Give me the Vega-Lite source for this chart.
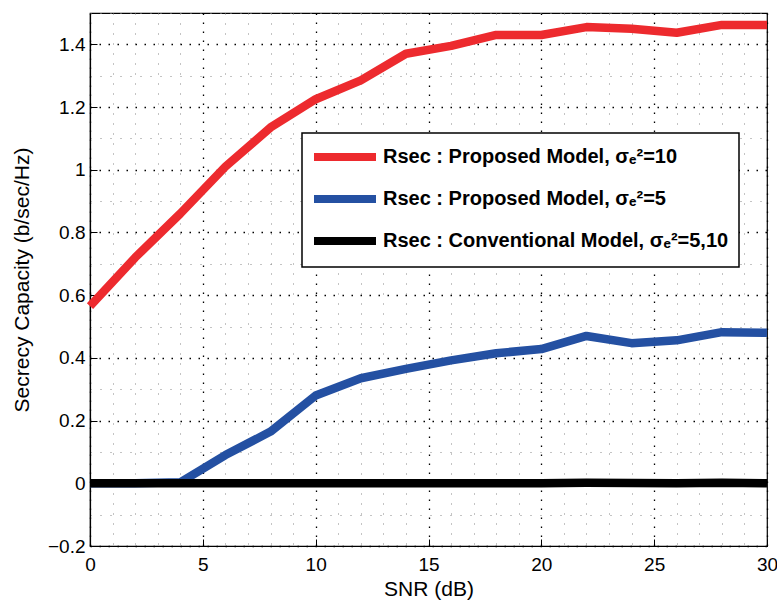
{
  "$schema": "https://vega.github.io/schema/vega-lite/v6.json",
  "autosize": {"type": "none"},
  "width": 677,
  "height": 533,
  "padding": {"left": 90, "top": 13, "right": 10, "bottom": 61},
  "background": "white",
  "config": {
    "font": "Liberation Sans",
    "view": {"stroke": "black", "strokeWidth": 1.2},
    "axis": {
      "domainColor": "black",
      "domainWidth": 1.2,
      "labelFont": "Liberation Sans",
      "labelFontSize": 19,
      "labelColor": "black",
      "titleFont": "Liberation Sans",
      "titleFontSize": 21,
      "titleFontWeight": "normal",
      "titleColor": "black",
      "ticks": true,
      "tickSize": -7,
      "tickColor": "black",
      "tickWidth": 1,
      "gridOpacity": 1
    }
  },
  "datasets": {
    "curves": [
      {"snr": 0, "cap": 0.565, "series": "Rsec : Proposed Model, σₑ²=10"},
      {"snr": 2, "cap": 0.72, "series": "Rsec : Proposed Model, σₑ²=10"},
      {"snr": 4, "cap": 0.86, "series": "Rsec : Proposed Model, σₑ²=10"},
      {"snr": 6, "cap": 1.01, "series": "Rsec : Proposed Model, σₑ²=10"},
      {"snr": 8, "cap": 1.135, "series": "Rsec : Proposed Model, σₑ²=10"},
      {"snr": 10, "cap": 1.225, "series": "Rsec : Proposed Model, σₑ²=10"},
      {"snr": 12, "cap": 1.285, "series": "Rsec : Proposed Model, σₑ²=10"},
      {"snr": 14, "cap": 1.37, "series": "Rsec : Proposed Model, σₑ²=10"},
      {"snr": 16, "cap": 1.395, "series": "Rsec : Proposed Model, σₑ²=10"},
      {"snr": 18, "cap": 1.43, "series": "Rsec : Proposed Model, σₑ²=10"},
      {"snr": 20, "cap": 1.43, "series": "Rsec : Proposed Model, σₑ²=10"},
      {"snr": 22, "cap": 1.455, "series": "Rsec : Proposed Model, σₑ²=10"},
      {"snr": 24, "cap": 1.45, "series": "Rsec : Proposed Model, σₑ²=10"},
      {"snr": 26, "cap": 1.437, "series": "Rsec : Proposed Model, σₑ²=10"},
      {"snr": 28, "cap": 1.462, "series": "Rsec : Proposed Model, σₑ²=10"},
      {"snr": 30, "cap": 1.462, "series": "Rsec : Proposed Model, σₑ²=10"},
      {"snr": 0, "cap": 0.0, "series": "Rsec : Proposed Model, σₑ²=5"},
      {"snr": 2, "cap": 0.0, "series": "Rsec : Proposed Model, σₑ²=5"},
      {"snr": 4, "cap": 0.003, "series": "Rsec : Proposed Model, σₑ²=5"},
      {"snr": 6, "cap": 0.09, "series": "Rsec : Proposed Model, σₑ²=5"},
      {"snr": 8, "cap": 0.165, "series": "Rsec : Proposed Model, σₑ²=5"},
      {"snr": 10, "cap": 0.28, "series": "Rsec : Proposed Model, σₑ²=5"},
      {"snr": 12, "cap": 0.335, "series": "Rsec : Proposed Model, σₑ²=5"},
      {"snr": 14, "cap": 0.365, "series": "Rsec : Proposed Model, σₑ²=5"},
      {"snr": 16, "cap": 0.392, "series": "Rsec : Proposed Model, σₑ²=5"},
      {"snr": 18, "cap": 0.415, "series": "Rsec : Proposed Model, σₑ²=5"},
      {"snr": 20, "cap": 0.428, "series": "Rsec : Proposed Model, σₑ²=5"},
      {"snr": 22, "cap": 0.47, "series": "Rsec : Proposed Model, σₑ²=5"},
      {"snr": 24, "cap": 0.447, "series": "Rsec : Proposed Model, σₑ²=5"},
      {"snr": 26, "cap": 0.456, "series": "Rsec : Proposed Model, σₑ²=5"},
      {"snr": 28, "cap": 0.482, "series": "Rsec : Proposed Model, σₑ²=5"},
      {"snr": 30, "cap": 0.48, "series": "Rsec : Proposed Model, σₑ²=5"},
      {"snr": 0, "cap": 0.0, "series": "Rsec : Conventional Model, σₑ²=5,10"},
      {"snr": 2, "cap": 0.0, "series": "Rsec : Conventional Model, σₑ²=5,10"},
      {"snr": 4, "cap": 0.0, "series": "Rsec : Conventional Model, σₑ²=5,10"},
      {"snr": 6, "cap": 0.0, "series": "Rsec : Conventional Model, σₑ²=5,10"},
      {"snr": 8, "cap": 0.0, "series": "Rsec : Conventional Model, σₑ²=5,10"},
      {"snr": 10, "cap": 0.0, "series": "Rsec : Conventional Model, σₑ²=5,10"},
      {"snr": 12, "cap": 0.0, "series": "Rsec : Conventional Model, σₑ²=5,10"},
      {"snr": 14, "cap": 0.0, "series": "Rsec : Conventional Model, σₑ²=5,10"},
      {"snr": 16, "cap": 0.0, "series": "Rsec : Conventional Model, σₑ²=5,10"},
      {"snr": 18, "cap": 0.0, "series": "Rsec : Conventional Model, σₑ²=5,10"},
      {"snr": 20, "cap": 0.0, "series": "Rsec : Conventional Model, σₑ²=5,10"},
      {"snr": 22, "cap": 0.002, "series": "Rsec : Conventional Model, σₑ²=5,10"},
      {"snr": 24, "cap": 0.001, "series": "Rsec : Conventional Model, σₑ²=5,10"},
      {"snr": 26, "cap": 0.0, "series": "Rsec : Conventional Model, σₑ²=5,10"},
      {"snr": 28, "cap": 0.002, "series": "Rsec : Conventional Model, σₑ²=5,10"},
      {"snr": 30, "cap": 0.0, "series": "Rsec : Conventional Model, σₑ²=5,10"}
    ]
  },
  "data": {"name": "curves"},
  "encoding": {
    "x": {
      "field": "snr",
      "type": "quantitative",
      "title": "SNR (dB)",
      "scale": {"domain": [0, 30], "nice": false, "zero": false},
      "axis": {
        "values": [0,1,2,3,4,5,6,7,8,9,10,11,12,13,14,15,16,17,18,19,20,21,22,23,24,25,26,27,28,29,30],
        "labelExpr": "datum.value % 5 === 0 ? datum.label : ''",
        "labelFlush": false,
        "labelPadding": 16,
        "titlePadding": 4,
        "tickOpacity": {"condition": {"test": "datum.value % 5 === 0", "value": 1}, "value": 0},
        "grid": true,
        "gridDash": {"condition": {"test": "datum.value % 5 === 0", "value": [1.5, 7.5]}, "value": [1, 9]},
        "gridColor": {"condition": {"test": "datum.value % 5 === 0", "value": "#000000"}, "value": "#888888"},
        "gridWidth": {"condition": {"test": "datum.value % 5 === 0", "value": 1.3}, "value": 1}
      }
    },
    "y": {
      "field": "cap",
      "type": "quantitative",
      "title": "Secrecy Capacity (b/sec/Hz)",
      "scale": {"domain": [-0.2, 1.5], "nice": false, "zero": false},
      "axis": {
        "values": [-0.2,-0.1,0,0.1,0.2,0.3,0.4,0.5,0.6,0.7,0.8,0.9,1,1.1,1.2,1.3,1.4,1.5],
        "labelExpr": "abs(datum.value*5 - round(datum.value*5)) < 0.001 ? format(datum.value, '~g') : ''",
        "labelPadding": 12,
        "titlePadding": 15,
        "tickOpacity": {"condition": {"test": "abs(datum.value*5 - round(datum.value*5)) < 0.001", "value": 1}, "value": 0},
        "grid": true,
        "gridDash": {"condition": {"test": "abs(datum.value*5 - round(datum.value*5)) < 0.001", "value": [1.5, 7.5]}, "value": [1, 9]},
        "gridColor": {"condition": {"test": "abs(datum.value*5 - round(datum.value*5)) < 0.001", "value": "#000000"}, "value": "#888888"},
        "gridWidth": {"condition": {"test": "abs(datum.value*5 - round(datum.value*5)) < 0.001", "value": 1.3}, "value": 1}
      }
    },
    "color": {
      "field": "series",
      "type": "nominal",
      "sort": null,
      "scale": {
        "domain": ["Rsec : Proposed Model, σₑ²=10", "Rsec : Proposed Model, σₑ²=5", "Rsec : Conventional Model, σₑ²=5,10"],
        "range": ["#ED2A2E", "#2450A2", "#000000"]
      },
      "legend": {
        "title": null,
        "orient": "none",
        "legendX": 212,
        "legendY": 120,
        "direction": "vertical",
        "fillColor": "white",
        "strokeColor": "black",
        "padding": 10,
        "symbolType": "M-1.2,0H5",
        "symbolSize": 400,
        "symbolStrokeWidth": 8,
        "symbolOpacity": 1,
        "labelOffset": 43,
        "labelFont": "Liberation Sans",
        "labelFontSize": 20,
        "labelFontWeight": "bold",
        "labelColor": "black",
        "labelLimit": 600,
        "rowPadding": 10,
        "encode": {"legend": {"update": {"strokeWidth": {"value": 1.5}}}}
      }
    }
  },
  "layer": [
    {
      "transform": [{"filter": "datum.series !== 'Rsec : Conventional Model, σₑ²=5,10'"}],
      "mark": {"type": "line", "strokeWidth": 8.5, "strokeCap": "butt", "strokeJoin": "round"}
    },
    {
      "transform": [{"filter": "datum.series === 'Rsec : Conventional Model, σₑ²=5,10'"}],
      "mark": {"type": "line", "strokeWidth": 8.5, "strokeCap": "butt", "strokeJoin": "round"}
    }
  ]
}
